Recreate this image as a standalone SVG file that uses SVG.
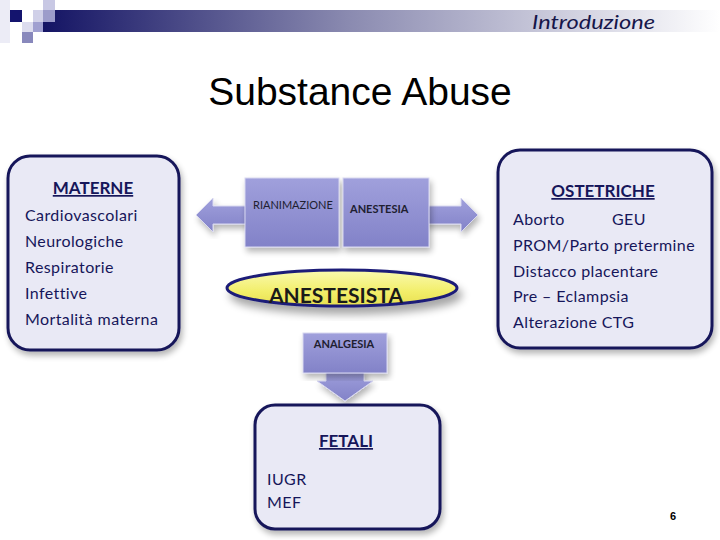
<svg xmlns="http://www.w3.org/2000/svg" width="720" height="540" viewBox="0 0 720 540">
<defs>
<linearGradient id="bar" x1="0" y1="0" x2="1" y2="0">
<stop offset="0" stop-color="#141464"/>
<stop offset="0.45" stop-color="#8a8ab0"/>
<stop offset="1" stop-color="#ffffff"/>
</linearGradient>
<linearGradient id="lav" x1="0" y1="0" x2="0" y2="1">
<stop offset="0" stop-color="#a0a0dc"/>
<stop offset="1" stop-color="#8282c8"/>
</linearGradient>
<linearGradient id="yel" x1="0" y1="0" x2="0" y2="1">
<stop offset="0" stop-color="#fafab0"/>
<stop offset="0.6" stop-color="#f2ee6a"/>
<stop offset="1" stop-color="#e8e050"/>
</linearGradient>
<filter id="sh" x="-10%" y="-10%" width="125%" height="130%">
<feGaussianBlur in="SourceAlpha" stdDeviation="3"/>
<feOffset dx="2" dy="4" result="b"/>
<feComponentTransfer><feFuncA type="linear" slope="0.3"/></feComponentTransfer>
<feMerge><feMergeNode/><feMergeNode in="SourceGraphic"/></feMerge>
</filter>
<filter id="sh2" x="-10%" y="-20%" width="125%" height="160%">
<feGaussianBlur in="SourceAlpha" stdDeviation="4"/>
<feOffset dx="4" dy="7"/>
<feComponentTransfer><feFuncA type="linear" slope="0.35"/></feComponentTransfer>
<feMerge><feMergeNode/><feMergeNode in="SourceGraphic"/></feMerge>
</filter>
</defs>
<style>
.box{fill:#e9e9f5;stroke:#16165a;stroke-width:3}
.t{font-family:Lato,"Liberation Sans",sans-serif;fill:#16165a;font-size:16px;letter-spacing:0.4px}
.h{font-family:Lato,"Liberation Sans",sans-serif;fill:#16165a;font-size:17px;font-weight:bold;text-decoration:underline;text-anchor:middle}
.blk{fill:url(#lav);stroke:#d8d8f0;stroke-width:1}
.s{font-family:Lato,"Liberation Sans",sans-serif;fill:#202030;font-size:11px}
</style>
<rect width="720" height="540" fill="#ffffff"/>
<g id="header">
<rect x="0" y="0" width="10" height="43" fill="#ececf6"/>
<rect x="43" y="10" width="677" height="22" fill="url(#bar)"/>
<rect x="10" y="10" width="12" height="12" fill="#14146e"/>
<rect x="43" y="0" width="12" height="10" fill="#c8c8e4"/>
<rect x="33" y="10" width="10" height="12" fill="#d0d0e8"/>
<rect x="43" y="10" width="12" height="12" fill="#9c9cca"/>
<rect x="22" y="22" width="11" height="10" fill="#dcdcee"/>
<rect x="33" y="22" width="10" height="10" fill="#a0a0d0"/>
<rect x="22" y="32" width="11" height="11" fill="#8888bc"/>
<text x="532" y="29" textLength="123" lengthAdjust="spacingAndGlyphs" font-family="Lato,'Liberation Sans',sans-serif" font-style="italic" font-size="20" fill="#16164a">Introduzione</text>
</g>
<text x="360" y="105" text-anchor="middle" font-family="'Liberation Sans',Arial,sans-serif" font-size="39" fill="#000">Substance Abuse</text>
<g id="connectors">
<polygon class="blk" filter="url(#sh)" points="196,215 213,198 213,206 250,206 250,224 213,224 213,232"/>
<polygon class="blk" filter="url(#sh)" points="478,215 461,198 461,206 424,206 424,224 461,224 461,232"/>
<polygon class="blk" filter="url(#sh)" points="326,370 364,370 364,381 373,381 345,401 317,381 326,381"/>
</g>
<g id="materne">
<rect class="box" x="8" y="156" width="171" height="194" rx="22" filter="url(#sh)"/>
<text class="h" x="93" y="194">MATERNE</text>
<text class="t" x="25" y="221">Cardiovascolari</text>
<text class="t" x="25" y="247">Neurologiche</text>
<text class="t" x="25" y="273">Respiratorie</text>
<text class="t" x="25" y="299">Infettive</text>
<text class="t" x="25" y="325">Mortalità materna</text>
</g>
<g id="ostetriche">
<rect class="box" x="498" y="150" width="214" height="198" rx="22" filter="url(#sh)"/>
<text class="h" x="603" y="197">OSTETRICHE</text>
<text class="t" x="513" y="225">Aborto</text>
<text class="t" x="612" y="225">GEU</text>
<text class="t" x="513" y="251">PROM/Parto pretermine</text>
<text class="t" x="513" y="277">Distacco placentare</text>
<text class="t" x="513" y="302">Pre – Eclampsia</text>
<text class="t" x="513" y="328">Alterazione CTG</text>
</g>
<g id="rianimazione">
<rect class="blk" x="245" y="178" width="94" height="69" filter="url(#sh)"/>
<text class="s" x="253" y="209" font-size="10">RIANIMAZIONE</text>
</g>
<g id="anestesia">
<rect class="blk" x="343" y="178" width="86" height="69" filter="url(#sh)"/>
<text class="s" x="350" y="213" font-weight="bold" font-size="11.5">ANESTESIA</text>
</g>
<g id="anestesista">
<ellipse cx="342" cy="288" rx="115" ry="18" fill="url(#yel)" stroke="#1c1c78" stroke-width="3" filter="url(#sh2)"/>
<text x="336" y="303" text-anchor="middle" font-family="Lato,'Liberation Sans',sans-serif" font-weight="bold" font-size="21" fill="#1a1a1a">ANESTESISTA</text>
</g>
<g id="analgesia">
<rect class="blk" x="303" y="333" width="84" height="40" filter="url(#sh)"/>
<text class="s" x="344" y="348" text-anchor="middle" font-weight="bold">ANALGESIA</text>
</g>
<g id="fetali">
<rect class="box" x="255" y="405" width="185" height="124" rx="20" filter="url(#sh)"/>
<text class="h" x="346" y="447">FETALI</text>
<text class="t" x="267" y="485" fill="#303040" font-size="15">IUGR</text>
<text class="t" x="267" y="508" fill="#303040" font-size="15">MEF</text>
</g>
<text x="673" y="520" text-anchor="middle" font-family="'Liberation Sans',Arial,sans-serif" font-weight="bold" font-size="11" fill="#000">6</text>
</svg>
